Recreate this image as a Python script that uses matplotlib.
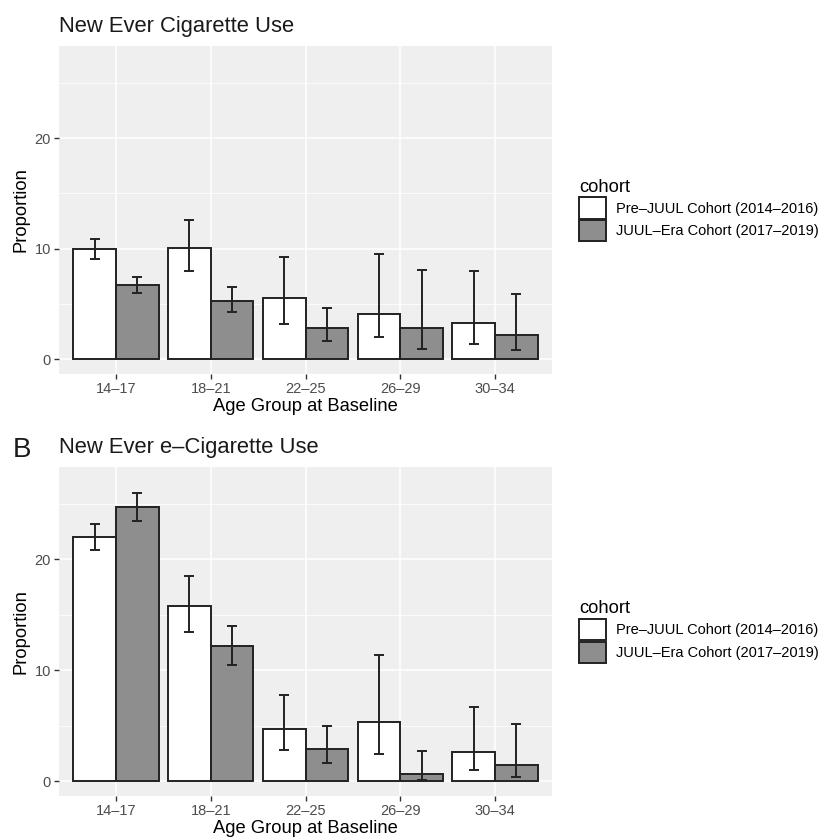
import numpy as np
import matplotlib.pyplot as plt
from matplotlib.ticker import MultipleLocator

plt.rcParams['font.family'] = ['Liberation Sans', 'DejaVu Sans']

ages = ["14–17", "18–21", "22–25", "26–29", "30–34"]
cohorts = ["Pre–JUUL Cohort (2014–2016)", "JUUL–Era Cohort (2017–2019)"]

# panel A: new ever cigarette use
cig_pre = [10.0, 10.1, 5.5, 4.1, 3.3]
cig_pre_lo = [9.1, 8.0, 3.2, 2.0, 1.35]
cig_pre_hi = [10.9, 12.6, 9.2, 9.5, 8.0]
cig_juul = [6.7, 5.3, 2.8, 2.8, 2.2]
cig_juul_lo = [6.0, 4.3, 1.65, 0.9, 0.8]
cig_juul_hi = [7.45, 6.5, 4.6, 8.1, 5.9]

# panel B: new ever e-cigarette use
ecig_pre = [22.0, 15.8, 4.7, 5.35, 2.6]
ecig_pre_lo = [20.9, 13.5, 2.8, 2.45, 1.0]
ecig_pre_hi = [23.2, 18.5, 7.75, 11.4, 6.65]
ecig_juul = [24.7, 12.2, 2.85, 0.6, 1.45]
ecig_juul_lo = [23.5, 10.5, 1.6, 0.13, 0.36]
ecig_juul_hi = [26.0, 14.0, 4.95, 2.7, 5.15]

fills = ["white", "#8e8e8e"]
edge = "#222222"

W, H = 828, 839
fig = plt.figure(figsize=(W / 100, H / 100), dpi=100)


def panel(top, bottom, title, series, label=None):
    ax = fig.add_axes([59 / W, 1 - bottom / H, 493 / W, (bottom - top) / H])
    ax.set_facecolor("#efefef")
    x = np.arange(1, len(ages) + 1)
    bw = 0.45
    handles = []
    for k, (vals, lo, hi) in enumerate(series):
        xs = x + (k - 0.5) * bw
        b = ax.bar(xs, vals, width=bw, color=fills[k], edgecolor=edge,
                   linewidth=1.4, zorder=3, label=cohorts[k])
        handles.append(b)
        vals = np.array(vals)
        err = [vals - np.array(lo), np.array(hi) - vals]
        ax.errorbar(xs, vals, yerr=err, fmt="none", ecolor=edge,
                    elinewidth=1.4, capsize=3.4, capthick=1.4, zorder=4)
    ax.set_xlim(0.4, 5.6)
    ax.set_ylim(-1.35, 28.35)
    ax.set_xticks(x)
    ax.set_xticklabels(ages)
    ax.yaxis.set_major_locator(MultipleLocator(10))
    ax.yaxis.set_minor_locator(MultipleLocator(5))
    ax.grid(True, which="major", color="white", lw=1.1, zorder=0)
    ax.grid(True, which="minor", axis="y", color="white", lw=0.55, zorder=0)
    for s in ax.spines.values():
        s.set_visible(False)
    ax.tick_params(which="major", length=3.5, width=1.0, color="#333333",
                   labelsize=10.5, labelcolor="#4d4d4d", pad=2.2)
    ax.tick_params(which="minor", length=0)
    ax.set_xlabel("Age Group at Baseline", fontsize=13.2, labelpad=1.5)
    ax.set_ylabel("Proportion", fontsize=13.2, labelpad=4)
    fig.text(59 / W, 1 - (top - 14) / H, title, fontsize=15.8,
             va="baseline", ha="left", color="#1a1a1a")
    if label:
        fig.text(13 / W, 1 - (top - 10) / H, label, fontsize=20,
                 va="baseline", ha="left", color="#1a1a1a")
    mid = 1 - (top + bottom) / 2 / H
    leg = ax.legend(handles=handles, loc="center left",
                    bbox_to_anchor=(579 / W, mid), bbox_transform=fig.transFigure,
                    frameon=False, fontsize=10.5, title="cohort",
                    title_fontsize=13.2, handlelength=1.85, handleheight=1.85,
                    labelspacing=0.12, handletextpad=0.7, borderpad=0,
                    borderaxespad=0)
    leg._legend_box.align = "left"
    return ax


panel(46, 374, "New Ever Cigarette Use",
      [(cig_pre, cig_pre_lo, cig_pre_hi), (cig_juul, cig_juul_lo, cig_juul_hi)])
panel(467, 796, "New Ever e–Cigarette Use",
      [(ecig_pre, ecig_pre_lo, ecig_pre_hi), (ecig_juul, ecig_juul_lo, ecig_juul_hi)],
      label="B")

fig.savefig("out.png", dpi=100)
